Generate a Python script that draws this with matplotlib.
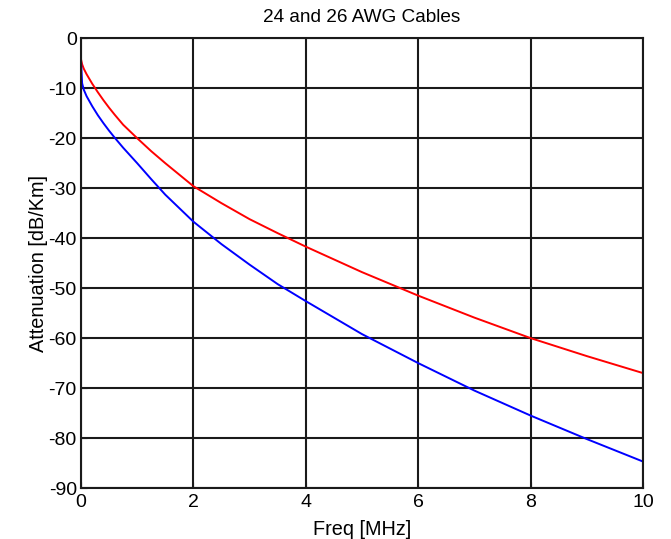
import matplotlib
matplotlib.use("Agg")
import matplotlib.pyplot as plt

plt.rcParams['font.family'] = ['Liberation Sans', 'DejaVu Sans']
plt.rcParams['axes.unicode_minus'] = False

freq = [0, 0.02, 0.05, 0.1, 0.2, 0.3, 0.4, 0.5, 0.6, 0.75, 1, 1.25, 1.5, 2, 2.5, 3, 3.5, 4,
        5, 6, 7, 8, 9, 10]
awg24 = [-4.2, -5.2, -6.1, -7.2, -9.1, -10.8, -12.4, -13.9, -15.3, -17.3, -20.0, -22.6,
         -25.0, -29.6, -33.0, -36.2, -39.0, -41.7, -46.8, -51.5, -55.9, -60.0, -63.6, -67.0]
awg26 = [-4.5, -9.0, -10.3, -11.6, -13.6, -15.4, -17.0, -18.5, -19.9, -21.9, -25.0, -28.2,
         -31.3, -36.7, -41.2, -45.3, -49.2, -52.6, -59.2, -65.0, -70.5, -75.5, -80.2, -84.7]

xticks = [0, 2, 4, 6, 8, 10]
yticks = [0, -10, -20, -30, -40, -50, -60, -70, -80, -90]

fig = plt.figure(figsize=(6.71, 5.39), dpi=100)
ax = fig.add_axes([0.1207, 0.0946, 0.8375, 0.8344])

ax.plot(freq, awg24, color='#ff0000', lw=1.4)
ax.plot(freq, awg26, color='#0000ff', lw=1.4)

ax.set_xlim(0, 10)
ax.set_ylim(-90, 0)
ax.set_xticks(xticks)
ax.set_yticks(yticks)
ax.grid(True, color='#1a1a1a', lw=1.5, ls='-')
ax.set_axisbelow(True)
for s in ax.spines.values():
    s.set_color('#1a1a1a')
    s.set_linewidth(1.5)
ax.tick_params(direction='in', length=4, labelsize=14, pad=3, color='#1a1a1a')
ax.tick_params(axis='x', pad=4.5)

ax.set_title('24 and 26 AWG Cables', fontsize=13.7, pad=12)
ax.set_xlabel('Freq [MHz]', fontsize=14.3, labelpad=6)
ax.set_ylabel('Attenuation [dB/Km]', fontsize=14.3, labelpad=0)

fig.savefig('out.png', dpi=100)
